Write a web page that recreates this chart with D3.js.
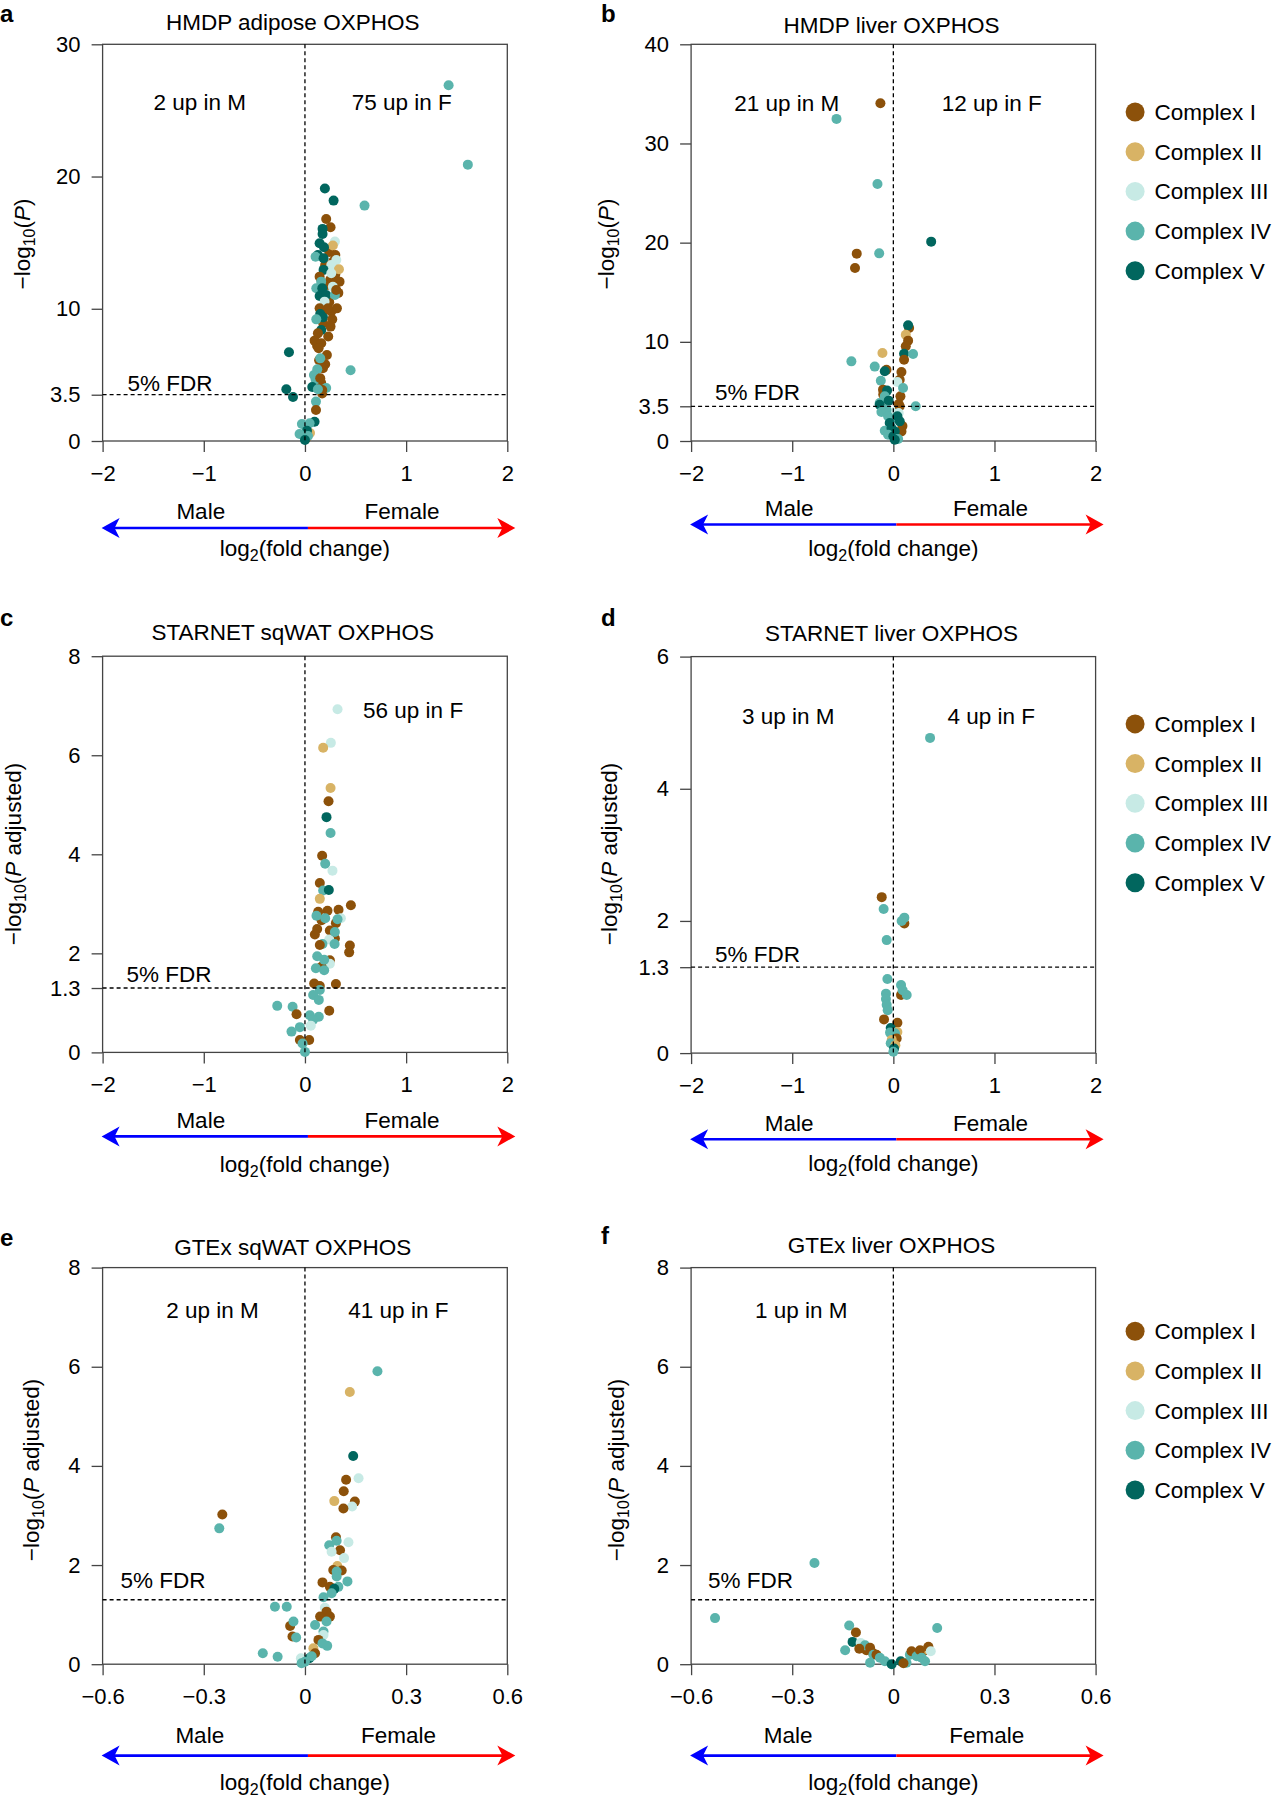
<!DOCTYPE html>
<html><head><meta charset="utf-8">
<script src="https://cdn.jsdelivr.net/npm/d3@7"></script>
<style>
body{margin:0;background:#fff}
svg{display:block}
text{font-family:"Liberation Sans",Arial,Helvetica,sans-serif;fill:#000}
</style>
</head><body>
<svg id="chart" width="1274" height="1800"></svg>
<script>
// ---------- categories ----------
const complexNames = ["Complex I","Complex II","Complex III","Complex IV","Complex V"];
const complexColors = ["#8c510a","#d8b365","#c7eae5","#5ab4ac","#01665e"];

// ---------- tick labels ----------
const xTicksWide = [-2,-1,0,1,2];
const xTicksNarrow = [-0.6,-0.3,0,0.3,0.6];
const yTicksA = [0,3.5,10,20,30];
const yTicksB = [0,3.5,10,20,30,40];
const yTicksC = [0,1.3,2,4,6,8];
const yTicksD = [0,1.3,2,4,6];
const yTicksEF = [0,2,4,6,8];

// ---------- data: [log2 fold change, -log10 P, complex 1..5] ----------
const hmdpAdipose = [
[0.2,13.3,1],[0.25,12.2,1],[0.28,13.6,1],[0.22,11.8,1],[0.3,12.6,1],[0.19,9.9,1],[0.24,10.5,1],[0.33,11.2,1],
[0.26,9.8,1],[0.18,8.9,1],[0.23,7.9,1],[0.12,7.2,1],[0.2,5.8,1],[0.14,6.1,1],[0.16,4.4,1],[0.17,3.6,1],[0.24,14.3,1],[0.27,12.0,1],
[0.01,0.2,1],[0.05,0.6,2],
[1.42,26.9,4],[1.61,20.9,4],[0.197,19.09,5],[0.283,18.18,5],[0.589,17.8,4],
[0.21,16.79,1],[0.253,16.16,1],[0.174,16.04,5],[0.174,15.66,5],[0.145,14.95,5],[0.296,15.08,3],[0.276,14.78,2],
[0.188,14.65,5],[0.128,14.07,5],[0.105,13.94,4],[0.184,13.82,5],[0.3,14.07,1],[0.31,13.69,3],[0.26,13.31,3],
[0.336,12.99,2],[0.184,12.94,5],[0.145,12.43,1],[0.26,12.68,3],[0.16,12.05,4],[0.342,12.05,1],[0.112,11.55,4],
[0.171,11.55,5],[0.276,11.67,3],[0.145,10.97,5],[0.21,11.04,5],[0.296,11.04,4],[0.309,11.42,1],[0.194,10.54,3],
[0.316,10.03,1],[0.227,10.03,1],[0.145,10.03,1],[0.151,9.6,5],[0.178,9.35,5],[0.112,9.2,4],[0.27,9.2,1],
[0.253,8.65,1],[0.161,8.4,5],[0.128,8.14,1],[0.095,7.59,1],[0.161,7.39,1],[0.135,7.01,1],[0.217,6.5,1],
[0.151,6.25,4],[-0.158,6.71,5],[0.451,5.35,4],[0.178,5.5,1],[0.122,5.42,4],[0.089,4.99,4],[0.105,4.66,4],
[0.151,4.74,1],[0.072,4.08,5],[0.21,4.01,4],[0.171,3.86,1],[0.128,3.91,4],[-0.184,3.91,5],[-0.118,3.33,5],
[0.109,2.98,4],[0.109,2.34,1],[0.095,1.46,5],[-0.03,1.29,4],[0.046,1.34,4],[0.02,0.78,5],[-0.053,0.53,4],
[0.03,0.38,4],[0,0.08,5]
];
const hmdpLiver = [
[0.09,1.5,1],[-0.03,2.2,4],[0.02,3.0,3],[-0.1,4.7,1],[0.07,4.5,1],[0.063,3.5,1],
[-0.128,34.06,1],[-0.562,32.48,4],[-0.157,25.92,4],[-0.362,18.89,1],[-0.379,17.45,1],[-0.14,18.92,4],[0.374,20.1,5],
[0.156,11.4,1],[0.146,11.66,5],[0.123,10.72,2],[0.146,10.12,1],[0.123,9.55,1],[0.106,8.8,5],[0.195,8.77,4],
[0.106,8.2,1],[-0.415,8.03,4],[-0.108,8.87,2],[-0.184,7.5,4],[-0.068,7.19,1],[-0.085,7.03,5],[0.08,6.96,1],
[-0.124,6.08,4],[0.063,6.18,1],[0.04,5.95,3],[0.096,5.34,4],[-0.102,5.18,1],[-0.062,5.08,5],[-0.085,4.5,4],
[-0.135,3.83,4],[-0.135,3.66,5],[-0.046,4.07,5],[0.053,3.73,1],[0.221,3.5,4],[-0.118,2.92,4],[-0.068,3.16,4],
[-0.052,2.49,4],[0.053,2.82,3],[0.04,2.49,5],[0.063,1.98,5],[-0.036,1.82,5],[-0.085,1.04,4],[0.08,0.97,1],
[-0.019,1.31,5],[0.014,0.97,5],[-0.052,0.64,4],[0,0.47,5],[0.047,0.2,4],[0.014,0.13,5]
];
const starnetSqWAT = [
[0.322,6.93,3],[0.256,6.25,3],[0.18,6.15,2],[0.253,5.34,2],[0.233,5.07,1],[0.213,4.75,5],[0.253,4.43,4],
[0.17,3.97,1],[0.2,3.81,4],[0.272,3.67,3],[0.147,3.42,1],[0.18,3.27,4],[0.236,3.28,5],[0.147,3.1,2],
[0.454,2.97,1],[0.223,2.86,1],[0.332,2.88,1],[0.131,2.84,1],[0.164,2.67,1],[0.306,2.61,1],[0.114,2.76,4],
[0.2,2.71,4],[0.355,2.71,3],[0.322,2.69,4],[0.121,2.49,1],[0.098,2.38,1],[0.246,2.46,1],[0.296,2.3,1],
[0.24,2.28,3],[0.296,2.43,4],[0.173,2.19,4],[0.293,2.19,4],[0.444,2.16,1],[0.437,2.02,1],[0.147,2.17,1],
[0.246,1.86,1],[0.246,1.79,3],[0.164,1.73,1],[0.121,1.94,4],[0.19,1.87,4],[0.108,1.7,4],[0.19,1.66,4],
[0.091,1.39,1],[0.147,1.34,1],[0.306,1.38,1],[0.147,1.26,4],[0.081,1.16,4],[0.137,1.06,4],[0.24,0.84,1],
[-0.274,0.94,4],[-0.122,0.92,4],[-0.083,0.77,1],[0.048,0.75,4],[0.137,0.72,4],[0.081,0.66,4],[0.058,0.54,3],
[-0.05,0.51,4],[-0.133,0.42,4],[-0.05,0.25,1],[0.042,0.25,1],[-0.024,0.18,4],[0,0.01,4]
];
const starnetLiver = [
[0.363,4.77,4],[-0.115,2.36,1],[-0.096,2.18,4],[0.109,1.96,1],[0.109,2.05,4],[0.082,2.0,4],[-0.066,1.71,4],
[-0.059,1.12,4],[0.076,1.03,4],[0.076,0.88,1],[0.092,0.95,4],[0.132,0.88,4],[-0.073,0.9,4],[-0.073,0.82,4],
[-0.066,0.73,4],[-0.056,0.65,4],[-0.092,0.51,1],[0.04,0.46,1],[-0.026,0.38,5],[0.04,0.32,2],[-0.033,0.31,4],
[0.016,0.3,4],[0.033,0.22,1],[-0.016,0.2,2],[-0.026,0.15,4],[0.02,0.12,2],[0.007,0.07,5],[0,0.02,4]
];
const gtexSqWAT = [
[0.215,5.91,4],[0.133,5.49,2],[0.143,4.2,5],[0.159,3.75,3],[0.122,3.72,1],[0.115,3.49,1],[0.148,3.28,1],
[0.087,3.29,2],[0.14,3.18,3],[0.114,3.14,1],[-0.245,3.02,1],[-0.254,2.74,4],[0.092,2.56,1],[0.129,2.46,3],
[0.072,2.4,4],[0.094,2.49,4],[0.104,2.3,1],[0.079,2.27,3],[0.116,2.14,3],[0.096,1.98,2],[0.084,1.9,1],
[0.109,1.89,1],[0.094,1.87,4],[0.094,1.77,4],[0.126,1.67,4],[0.052,1.65,1],[0.074,1.56,1],[0.099,1.56,4],
[0.087,1.52,5],[0.079,1.43,4],[0.055,1.35,4],[-0.089,1.16,4],[-0.054,1.16,4],[0.059,1.14,3],[0.064,1.06,1],
[0.045,0.96,1],[0.074,0.96,1],[0.064,0.86,4],[0.03,0.79,4],[-0.044,0.77,1],[-0.034,0.86,4],[0.055,0.66,4],
[0.055,0.59,3],[-0.037,0.56,1],[-0.026,0.54,4],[0.04,0.49,1],[0.066,0.37,4],[0.052,0.42,4],[0.025,0.32,2],
[0.03,0.22,1],[-0.125,0.22,4],[-0.081,0.15,4],[-0.012,0.12,3],[0.013,0.12,5],[-0.01,0.02,4],[0,0.05,4],[0.02,0.16,4]
];
const gtexLiver = [
[-0.09,0.35,1],[-0.08,0.28,1],[-0.06,0.22,1],[0.06,0.22,1],[0.09,0.27,1],[0.1,0.3,2],
[-0.234,2.04,4],[-0.529,0.93,4],[-0.131,0.78,4],[0.13,0.73,4],[-0.111,0.64,1],[-0.121,0.45,5],[-0.097,0.43,3],
[-0.084,0.38,4],[-0.101,0.31,1],[-0.143,0.28,4],[-0.069,0.33,1],[-0.059,0.19,4],[-0.05,0.19,1],[-0.069,0.03,4],
[-0.04,0.13,4],[-0.025,0.06,4],[-0.005,0.0,5],[0.022,0.06,5],[0.039,0.03,4],[0.049,0.19,4],[0.054,0.26,1],
[0.069,0.16,4],[0.079,0.28,1],[0.104,0.35,1],[0.111,0.26,3],[0.084,0.13,4],[0.094,0.06,4],[0.03,0.02,1]
];

// ---------- layout ----------
const panels = [
 {letter:"a",data:hmdpAdipose,title:"HMDP adipose OXPHOS",left:102.6,right:507.3,top:44.3,bottom:441,
  xDomain:[-2,2],xTicks:xTicksWide,yMax:30,yTicks:yTicksA,fdr:3.5,fdrDx:25,fdrDy:4,
  yRest:"",yLabX:29.5,yLabY:244,counts:[["2 up in M",-1.04,25.04],["75 up in F",0.957,25.04]],
  titleX:292.7,titleY:30,letX:0,letY:22,arrowDy:87,maleDy:78,log2Dy:115,maleDx:-3,femDx:-4,legend:false},
 {letter:"b",data:hmdpLiver,title:"HMDP liver OXPHOS",left:691.1,right:1095.6,top:44.3,bottom:441,
  xDomain:[-2,2],xTicks:xTicksWide,yMax:40,yTicks:yTicksB,fdr:3.5,fdrDx:24,fdrDy:6,
  yRest:"",yLabX:614,yLabY:244,counts:[["21 up in M",-1.054,33.3],["12 up in F",0.973,33.3]],
  titleX:891.5,titleY:32.5,letX:601,letY:22,arrowDy:83.5,maleDy:75,log2Dy:115,maleDx:-3,femDx:-4,legend:true,legDy:67.7},
 {letter:"c",data:starnetSqWAT,title:"STARNET sqWAT OXPHOS",left:102.6,right:507.3,top:656.2,bottom:1052.4,
  xDomain:[-2,2],xTicks:xTicksWide,yMax:8,yTicks:yTicksC,fdr:1.3,fdrDx:24,fdrDy:6,
  yRest:" adjusted",yLabX:21.4,yLabY:854,counts:[["56 up in F",1.069,6.75]],
  titleX:292.7,titleY:640,letX:0,letY:626,arrowDy:84,maleDy:75.6,log2Dy:119.6,maleDx:-3,femDx:-4,legend:false},
 {letter:"d",data:starnetLiver,title:"STARNET liver OXPHOS",left:691.1,right:1095.6,top:656.6,bottom:1053.1,
  xDomain:[-2,2],xTicks:xTicksWide,yMax:6,yTicks:yTicksD,fdr:1.3,fdrDx:24,fdrDy:5,
  yRest:" adjusted",yLabX:617,yLabY:854,counts:[["3 up in M",-1.04,4.98],["4 up in F",0.968,4.98]],
  titleX:891.5,titleY:640.5,letX:601,letY:626,arrowDy:86.2,maleDy:78,log2Dy:118,maleDx:-3,femDx:-4,legend:true,legDy:67.3},
 {letter:"e",data:gtexSqWAT,title:"GTEx sqWAT OXPHOS",left:102.6,right:507.3,top:1267.6,bottom:1664.2,
  xDomain:[-0.6,0.6],xTicks:xTicksNarrow,yMax:8,yTicks:yTicksEF,fdr:1.3,fdrDx:18,fdrDy:12,
  yRest:" adjusted",yLabX:38.6,yLabY:1470,counts:[["2 up in M",-0.274,6.98],["41 up in F",0.277,6.98]],
  titleX:292.7,titleY:1255,letX:0,letY:1246,arrowDy:91.4,maleDy:79,log2Dy:126,maleDx:-4,femDx:-7.6,legend:false},
 {letter:"f",data:gtexLiver,title:"GTEx liver OXPHOS",left:691.1,right:1095.6,top:1267.6,bottom:1664.2,
  xDomain:[-0.6,0.6],xTicks:xTicksNarrow,yMax:8,yTicks:yTicksEF,fdr:1.3,fdrDx:17,fdrDy:12,
  yRest:" adjusted",yLabX:624,yLabY:1470,counts:[["1 up in M",-0.273,6.98]],
  titleX:891.5,titleY:1253,letX:601,letY:1244,arrowDy:91.4,maleDy:79,log2Dy:126,maleDx:-4,femDx:-7.7,legend:true,legDy:63.6}
];

const FONT = 22.5;
const svg = d3.select("#chart");
const fmt = d => d < 0 ? "\u2212" + Math.abs(d) : String(d);

function styleAxis(sel){
  sel.attr("font-family",'"Liberation Sans",Arial,sans-serif').attr("font-size",22);
  sel.select(".domain").remove();
  sel.selectAll(".tick line").attr("stroke","#444").attr("stroke-width",1.3);
  sel.selectAll(".tick text").attr("fill","#000");
}

function drawPanel(p){
  const g = svg.append("g");
  const x = d3.scaleLinear().domain(p.xDomain).range([p.left,p.right]);
  const y = d3.scaleLinear().domain([0,p.yMax]).range([p.bottom,p.top]);

  g.append("g").attr("transform",`translate(0,${p.bottom})`)
    .call(d3.axisBottom(x).tickValues(p.xTicks).tickFormat(fmt).tickSize(11).tickPadding(13))
    .call(styleAxis);
  g.append("g").attr("transform",`translate(${p.left},0)`)
    .call(d3.axisLeft(y).tickValues(p.yTicks).tickFormat(fmt).tickSize(11).tickPadding(11))
    .call(styleAxis);

  g.append("rect").attr("x",p.left).attr("y",p.top)
    .attr("width",p.right-p.left).attr("height",p.bottom-p.top)
    .attr("fill","none").attr("stroke","#444").attr("stroke-width",1.3);

  // points
  g.append("g").selectAll("circle").data(p.data).join("circle")
    .attr("cx",d=>x(d[0])).attr("cy",d=>y(d[1])).attr("r",5)
    .attr("fill",d=>complexColors[d[2]-1]);

  // dashed reference lines
  g.append("line").attr("x1",x(0)).attr("x2",x(0)).attr("y1",p.top).attr("y2",p.bottom)
    .attr("stroke","#000").attr("stroke-width",1.3).attr("stroke-dasharray","4,3");
  g.append("line").attr("x1",p.left).attr("x2",p.right).attr("y1",y(p.fdr)).attr("y2",y(p.fdr))
    .attr("stroke","#000").attr("stroke-width",1.3).attr("stroke-dasharray","4,3");
  g.append("text").attr("x",p.left+p.fdrDx).attr("y",y(p.fdr)-p.fdrDy).attr("font-size",FONT).text("5% FDR");

  // counts
  p.counts.forEach(c=>{
    g.append("text").attr("x",x(c[1])).attr("y",y(c[2])).attr("text-anchor","middle")
      .attr("font-size",FONT).text(c[0]);
  });

  // title and panel letter
  g.append("text").attr("x",p.titleX).attr("y",p.titleY).attr("text-anchor","middle")
    .attr("font-size",FONT).text(p.title);
  g.append("text").attr("x",p.letX).attr("y",p.letY).attr("font-size",24).attr("font-weight","bold")
    .text(p.letter);

  // y label
  const yl = g.append("text").attr("transform",`translate(${p.yLabX},${p.yLabY}) rotate(-90)`)
    .attr("text-anchor","middle").attr("font-size",FONT);
  yl.append("tspan").text("\u2212log");
  yl.append("tspan").attr("dy",5).attr("font-size",16).text("10");
  yl.append("tspan").attr("dy",-5).text("(");
  yl.append("tspan").attr("font-style","italic").text("P");
  yl.append("tspan").text(p.yRest + ")");

  // Male / Female + arrow
  const midL = (p.left + x(0))/2, midR = (x(0) + p.right)/2;
  g.append("text").attr("x",midL+p.maleDx).attr("y",p.bottom+p.maleDy).attr("text-anchor","middle")
    .attr("font-size",FONT).text("Male");
  g.append("text").attr("x",midR+p.femDx).attr("y",p.bottom+p.maleDy).attr("text-anchor","middle")
    .attr("font-size",FONT).text("Female");
  const ay = p.bottom + p.arrowDy, L = p.left - 1, R = p.right + 8, M = x(0) + 3;
  g.append("line").attr("x1",L+12).attr("x2",M).attr("y1",ay).attr("y2",ay)
    .attr("stroke","#0000ff").attr("stroke-width",2.6);
  g.append("line").attr("x1",M).attr("x2",R-12).attr("y1",ay).attr("y2",ay)
    .attr("stroke","#ff0000").attr("stroke-width",2.6);
  g.append("path").attr("d",`M${L},${ay}L${L+18},${ay-10}L${L+13},${ay}L${L+18},${ay+10}Z`).attr("fill","#0000ff");
  g.append("path").attr("d",`M${R},${ay}L${R-18},${ay-10}L${R-13},${ay}L${R-18},${ay+10}Z`).attr("fill","#ff0000");

  const xl = g.append("text").attr("x",x(0)).attr("y",p.bottom+p.log2Dy).attr("text-anchor","middle")
    .attr("font-size",FONT);
  xl.append("tspan").text("log");
  xl.append("tspan").attr("dy",5).attr("font-size",16).text("2");
  xl.append("tspan").attr("dy",-5).text("(fold change)");

  // legend
  if(p.legend){
    const lg = g.append("g");
    complexNames.forEach((n,i)=>{
      const cy = p.top + p.legDy + i*39.7;
      lg.append("circle").attr("cx",p.right+39.5).attr("cy",cy).attr("r",9.5).attr("fill",complexColors[i]);
      lg.append("text").attr("x",p.right+59).attr("y",cy+8).attr("font-size",FONT).text(n);
    });
  }
}

panels.forEach(drawPanel);
</script>
</body></html>
